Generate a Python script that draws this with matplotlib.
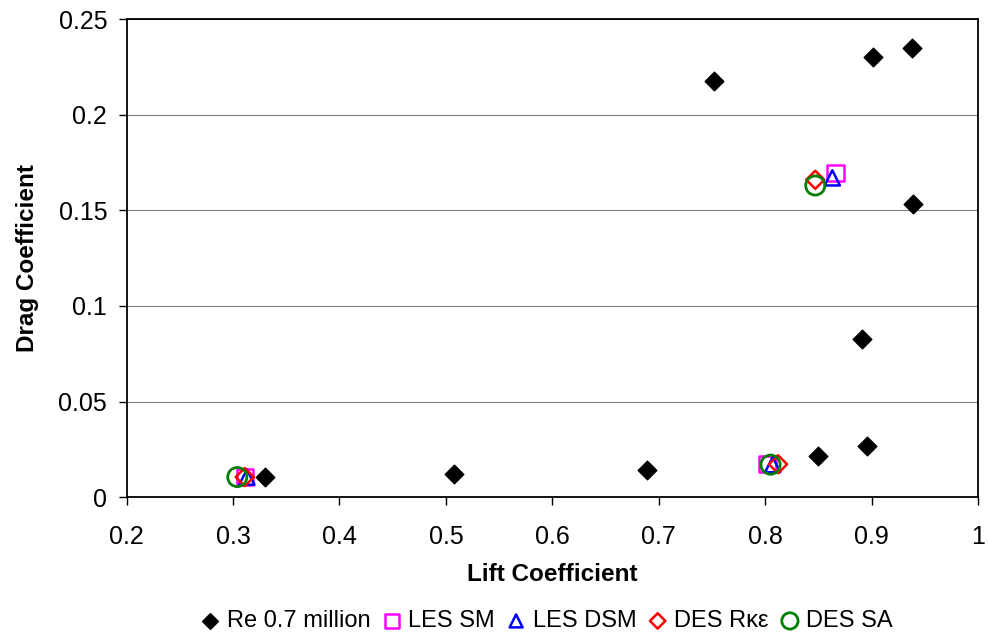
import matplotlib
matplotlib.use("Agg")
import matplotlib.pyplot as plt

plt.rcParams['font.family'] = ['Liberation Sans', 'DejaVu Sans']

re_x = [0.330, 0.508, 0.689, 0.752, 0.850, 0.891, 0.896, 0.901, 0.938, 0.939]
re_y = [0.0105, 0.0120, 0.0141, 0.2176, 0.0214, 0.0826, 0.0267, 0.2300, 0.2348, 0.1532]

les_sm_x = [0.311, 0.802, 0.866]
les_sm_y = [0.0105, 0.0172, 0.1695]
les_dsm_x = [0.313, 0.807, 0.863]
les_dsm_y = [0.0105, 0.0170, 0.1670]
des_rke_x = [0.311, 0.812, 0.847]
des_rke_y = [0.0105, 0.0172, 0.1660]
des_sa_x = [0.304, 0.805, 0.847]
des_sa_y = [0.0105, 0.0170, 0.1630]

fig = plt.figure(figsize=(9.89, 6.39), dpi=100)
ax = fig.add_axes([0.128, 0.222, 0.861, 0.748])

ax.scatter(re_x, re_y, marker='D', s=90, color='black', label='Re 0.7 million', zorder=3)
ax.scatter(les_sm_x, les_sm_y, marker='s', s=140, facecolors='none', edgecolors='#ff00ff', linewidths=1.8, label='LES SM', zorder=3)
ax.scatter(les_dsm_x, les_dsm_y, marker='^', s=120, facecolors='none', edgecolors='#0000ff', linewidths=1.8, label='LES DSM', zorder=3)
ax.scatter(des_rke_x, des_rke_y, marker='D', s=85, facecolors='none', edgecolors='#ff0000', linewidths=1.8, label='DES Rκε', zorder=3)
ax.scatter(des_sa_x, des_sa_y, marker='o', s=190, facecolors='none', edgecolors='#008000', linewidths=2.0, label='DES SA', zorder=3)

ax.set_xlim(0.2, 1.0)
ax.set_ylim(0, 0.25)
ax.set_xticks([0.2, 0.3, 0.4, 0.5, 0.6, 0.7, 0.8, 0.9, 1.0])
ax.set_xticklabels(['0.2', '0.3', '0.4', '0.5', '0.6', '0.7', '0.8', '0.9', '1'])
ax.set_yticks([0, 0.05, 0.1, 0.15, 0.2, 0.25])
ax.set_yticklabels(['0', '0.05', '0.1', '0.15', '0.2', '0.25'])
ax.yaxis.grid(True, color='#808080', linewidth=0.8)
ax.set_axisbelow(True)
ax.tick_params(labelsize=18, direction='out', length=6, width=1)
ax.tick_params(axis='x', pad=14)
ax.tick_params(axis='y', pad=8)
for s in ax.spines.values():
    s.set_color('black')
    s.set_linewidth(1.3)

ax.set_xlabel('Lift Coefficient', fontsize=17.5, fontweight='bold', labelpad=10)
ax.set_ylabel('Drag Coefficient', fontsize=17.5, fontweight='bold', labelpad=14)

fig.legend(loc='center', bbox_to_anchor=(0.553, 0.028), ncol=5, frameon=False,
           fontsize=17, handlelength=0.8, handletextpad=0.3, columnspacing=0.5,
           borderaxespad=0.0, markerscale=0.85)

fig.savefig('out.png', dpi=100)
